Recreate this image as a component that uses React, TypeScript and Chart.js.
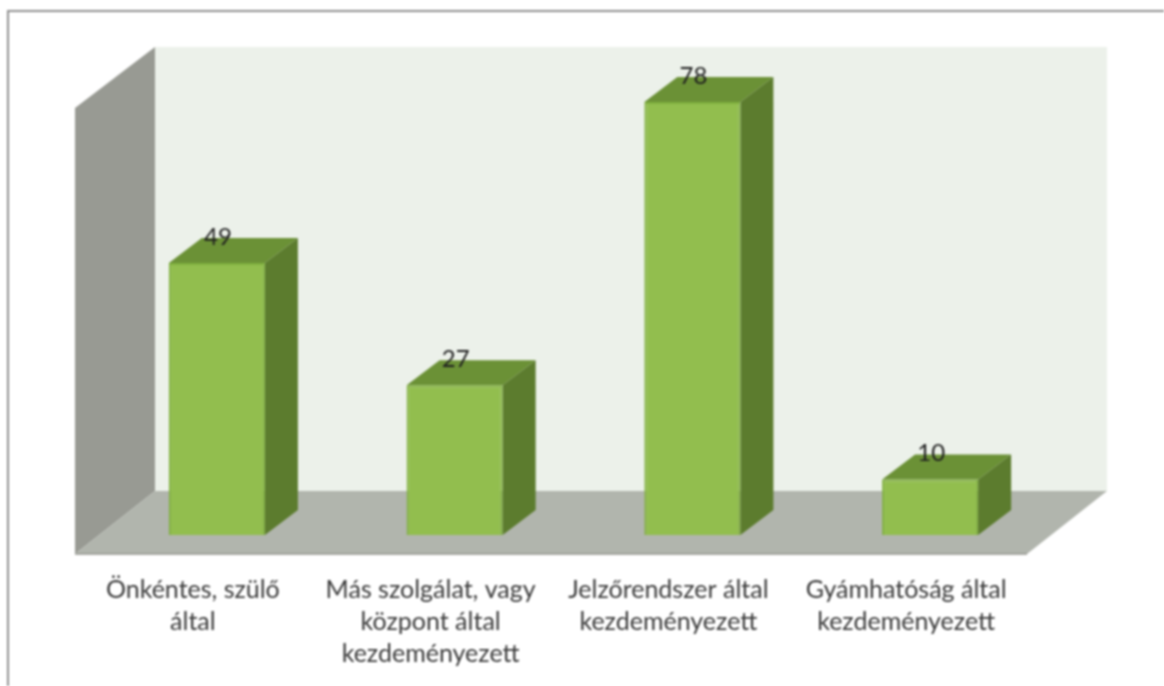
import React, { useEffect, useRef } from "react";
import { Chart, registerables } from "chart.js";

Chart.register(...registerables);

const categories: string[][] = [
  ["Önkéntes, szülő", "által"],
  ["Más szolgálat, vagy", "központ által", "kezdeményezett"],
  ["Jelzőrendszer által", "kezdeményezett"],
  ["Gyámhatóság által", "kezdeményezett"],
];
const values: number[] = [49, 27, 78, 10];

const FONT = "Lato, 'Noto Sans', sans-serif";
const DX = 33;
const DY = -25;

const scenePlugin = {
  id: "scene3d",
  beforeDatasetsDraw(chart: any) {
    const { ctx, chartArea: a } = chart;
    const poly = (pts: number[][], fill: string) => {
      ctx.beginPath();
      pts.forEach((p, i) => (i ? ctx.lineTo(p[0], p[1]) : ctx.moveTo(p[0], p[1])));
      ctx.closePath();
      ctx.fillStyle = fill;
      ctx.fill();
    };
    // outer frame
    ctx.save();
    ctx.strokeStyle = "#8f8f8f";
    ctx.lineWidth = 2;
    ctx.beginPath();
    ctx.moveTo(8, 686);
    ctx.lineTo(8, 11);
    ctx.lineTo(1164, 11);
    ctx.stroke();

    const frontL = a.left - 23;
    const frontR = a.right - 22;
    const backL = a.left + 57;
    const backR = a.right + 58;
    const floorFront = a.bottom + 19;
    const floorBack = a.bottom - 44;
    const wallTop = a.top - 44;
    const sideTop = a.top + 17;

    poly([[backL, wallTop], [backR, wallTop], [backR, floorBack], [backL, floorBack]], "#ecf1ea");
    poly([[frontL, sideTop], [backL, wallTop], [backL, floorBack], [frontL, floorFront]], "#989a93");
    poly([[frontL, floorFront], [backL, floorBack], [backR, floorBack], [frontR, floorFront]], "#b1b5ad");
    ctx.strokeStyle = "#94968f";
    ctx.lineWidth = 1.5;
    ctx.beginPath();
    ctx.moveTo(frontL, floorFront);
    ctx.lineTo(frontR, floorFront);
    ctx.stroke();

    // bar depth faces
    chart.getDatasetMeta(0).data.forEach((bar: any) => {
      const l = bar.x - bar.width / 2;
      const r = bar.x + bar.width / 2;
      const t = bar.y;
      const b = bar.base;
      poly([[l, t], [l + DX, t + DY], [r + DX, t + DY], [r, t]], "#6b9136");
      poly([[r, t], [r + DX, t + DY], [r + DX, b + DY], [r, b]], "#5c7c2e");
    });
    ctx.restore();
  },
  afterDatasetsDraw(chart: any) {
    const { ctx } = chart;
    ctx.save();
    ctx.font = `24px ${FONT}`;
    ctx.fillStyle = "#1f1f1f";
    ctx.textAlign = "center";
    ctx.textBaseline = "middle";
    chart.getDatasetMeta(0).data.forEach((bar: any, i: number) => {
      ctx.fillText(String(values[i]), bar.x + 1, bar.y - 26);
    });
    ctx.restore();
  },
};

export default function App() {
  const ref = useRef<HTMLCanvasElement | null>(null);
  useEffect(() => {
    if (!ref.current) return;
    const chart = new Chart(ref.current, {
      type: "bar",
      data: {
        labels: categories as any,
        datasets: [
          {
            data: values,
            backgroundColor: "#92be4e",
            borderColor: "#80b03f",
            borderWidth: 2,
            barPercentage: 0.404,
            categoryPercentage: 1,
          },
        ],
      },
      options: {
        responsive: false,
        animation: false,
        layout: { padding: { left: 98, right: 115, top: 91, bottom: 0 } },
        plugins: { legend: { display: false }, tooltip: { enabled: false }, title: { display: false } },
        scales: {
          x: {
            grid: { display: false },
            border: { display: false },
            afterFit: (s: any) => {
              s.height = 151;
            },
            ticks: {
              padding: 31,
              labelOffset: -24,
              maxRotation: 0,
              minRotation: 0,
              autoSkip: false,
              color: "#3a3a3a",
              font: { family: FONT, size: 25, lineHeight: 1.28 },
            },
          },
          y: { display: false, min: 0, max: 80 },
        },
      },
      plugins: [scenePlugin],
    });
    return () => chart.destroy();
  }, []);
  return (
    <canvas
      ref={ref}
      width={1164}
      height={686}
      style={{ position: "fixed", left: 0, top: 0, width: 1164, height: 686, filter: "blur(1px)", background: "#fff" }}
    />
  );
}
